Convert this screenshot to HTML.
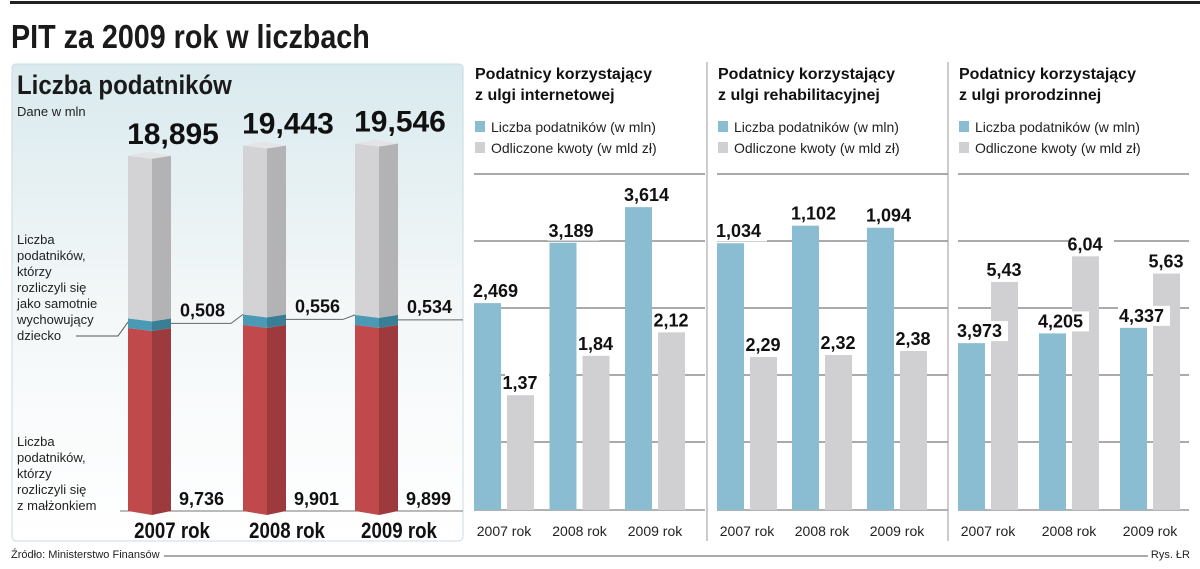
<!DOCTYPE html>
<html><head><meta charset="utf-8"><style>
body{margin:0;width:1200px;height:564px;background:#fff;overflow:hidden;font-family:"Liberation Sans",sans-serif}
svg text{font-family:"Liberation Sans",sans-serif}
</style></head><body>
<svg id="c" width="1200" height="564" viewBox="0 0 1200 564">
<defs><linearGradient id="bg" x1="0" y1="0" x2="0" y2="1"><stop offset="0" stop-color="#d9eaee"/><stop offset="0.5" stop-color="#f3f7f8"/><stop offset="1" stop-color="#ffffff"/></linearGradient></defs>
<rect x="10" y="1" width="1190" height="3" fill="#222"/>
<text x="11" y="48" font-size="33" font-weight="bold" fill="#1a1a1a" transform="translate(11 0) scale(0.87 1) translate(-11 0)">PIT za 2009 rok w liczbach</text>
<rect x="12" y="64" width="451" height="477" rx="4" fill="url(#bg)" stroke="#c8dce2"/>
<text x="17" y="94" font-size="27" font-weight="bold" fill="#1a1a1a" transform="translate(17 0) scale(0.89 1) translate(-17 0)">Liczba podatników</text>
<text x="17" y="116" font-size="13" fill="#222">Dane w mln</text>
<g font-size="13" fill="#222">
<text x="17" y="244">Liczba</text><text x="17" y="260">podatników,</text><text x="17" y="276">którzy</text><text x="17" y="292">rozliczyli się</text><text x="17" y="308">jako samotnie</text><text x="17" y="324">wychowujący</text><text x="17" y="340">dziecko</text></g>
<g font-size="13" fill="#222">
<text x="17" y="446">Liczba</text><text x="17" y="462">podatników,</text><text x="17" y="478">którzy</text><text x="17" y="494">rozliczyli się</text><text x="17" y="510">z małżonkiem</text></g>
<polyline points="76,336 118,336 128,322" fill="none" stroke="#555" stroke-width="1"/>
<line x1="120" y1="511" x2="463" y2="511" stroke="#777"/>
<g id="left"></g>
<g id="panels"></g>
<text x="11" y="558" font-size="11" fill="#222">Źródło: Ministerstwo Finansów</text>
<line x1="164" y1="556" x2="1148" y2="556" stroke="#555"/>
<text x="1190" y="558" font-size="11" fill="#222" text-anchor="end">Rys. ŁR</text>
</svg>
<script>
// Left stacked chart data
const years = ["2007 rok","2008 rok","2009 rok"];
const totals = [18.895, 19.443, 19.546];
const singleParents = [0.508, 0.556, 0.534];
const married = [9.736, 9.901, 9.899];
const totalLabels = ["18,895","19,443","19,546"];
const singleLabels = ["0,508","0,556","0,534"];
const marriedLabels = ["9,736","9,901","9,899"];

// Panel data
const panelTitles = [["Podatnicy korzystający","z ulgi internetowej"],["Podatnicy korzystający","z ulgi rehabilitacyjnej"],["Podatnicy korzystający","z ulgi prorodzinnej"]];
const internetTaxpayers = [2.469, 3.189, 3.614];
const internetAmounts = [1.37, 1.84, 2.12];
const rehabTaxpayers = [1.034, 1.102, 1.094];
const rehabAmounts = [2.29, 2.32, 2.38];
const familyTaxpayers = [3.973, 4.205, 4.337];
const familyAmounts = [5.43, 6.04, 5.63];
const internetTaxpayerLabels = ["2,469","3,189","3,614"];
const internetAmountLabels = ["1,37","1,84","2,12"];
const rehabTaxpayerLabels = ["1,034","1,102","1,094"];
const rehabAmountLabels = ["2,29","2,32","2,38"];
const familyTaxpayerLabels = ["3,973","4,205","4,337"];
const familyAmountLabels = ["5,43","6,04","5,63"];

const NS="http://www.w3.org/2000/svg";
function mk(tag,attrs,parent,txt){const e=document.createElementNS(NS,tag);for(const k in attrs)e.setAttribute(k,attrs[k]);if(txt!==undefined)e.textContent=txt;parent.appendChild(e);return e;}

// left chart
const left=document.getElementById('left');
const base=511, ls=18.8;
const yL=v=>base-v*ls;
const barX=[128,243,355];
years.forEach((yr,i)=>{
  const x0=barX[i], x1=x0+24, x2=x1+19;
  const g=mk('g',{},left);
  
  
  const rTop=yL(married[i]), bTop=yL(married[i]+singleParents[i]), tTop=yL(totals[i]);
  mk('polygon',{points:`${x0},${rTop} ${x1},${rTop+3} ${x1},${base+4} ${x0},${base}`,fill:'#c0494c'},g);
  mk('polygon',{points:`${x1},${rTop+3} ${x2},${rTop} ${x2},${base} ${x1},${base+4}`,fill:'#9c3a3d'},g);
  mk('polygon',{points:`${x0},${bTop} ${x1},${bTop+3} ${x1},${rTop+3} ${x0},${rTop}`,fill:'#4b9ab5'},g);
  mk('polygon',{points:`${x1},${bTop+3} ${x2},${bTop} ${x2},${rTop} ${x1},${rTop+3}`,fill:'#3a7e96'},g);
  mk('polygon',{points:`${x0},${tTop} ${x1},${tTop+3} ${x1},${bTop+3} ${x0},${bTop}`,fill:'#d3d3d5'},g);
  mk('polygon',{points:`${x1},${tTop+3} ${x2},${tTop} ${x2},${bTop} ${x1},${bTop+3}`,fill:'#b3b3b6'},g);
  mk('polygon',{points:`${x0},${tTop} ${x0+20},${tTop-4} ${x2},${tTop} ${x1},${tTop+3}`,fill:'#e4e4e6'},g);
  const t=mk('text',{x:x0+45,y:tTop-12,'font-size':30,'font-weight':'bold','text-anchor':'middle',fill:'#111'},left,totalLabels[i]);
  
  
  const s=mk('text',{x:x2+9,y:bTop-2,'font-size':18,'font-weight':'bold',fill:'#111'},left,singleLabels[i]);
  
  
  const nx = i<2?barX[i+1]:463;
  mk('polyline',{points:`${x2},${bTop+5} ${nx-12},${bTop+5} ${nx},${i<2?yL(married[i+1]+singleParents[i+1]):bTop+5}`,fill:'none',stroke:'#666','stroke-width':1},left);
  const m=mk('text',{x:x2+8,y:505,'font-size':18,'font-weight':'bold',fill:'#111'},left,marriedLabels[i]);
  
  
  const yl=mk('text',{x:x0+44,y:538,'font-size':22,'font-weight':'bold','text-anchor':'middle',fill:'#111',transform:`translate(${x0+44} 0) scale(0.85 1) translate(${-(x0+44)} 0)`},left,yr);
  
  
});

// panels
const P=document.getElementById('panels');
const panelDefs=[
 {x:474,bs:83.8,gs:83.8,b:internetTaxpayers,gv:internetAmounts,bl:internetTaxpayerLabels,gl:internetAmountLabels,name:'internet'},
 {x:717,bs:258,gs:66.8,b:rehabTaxpayers,gv:rehabAmounts,bl:rehabTaxpayerLabels,gl:rehabAmountLabels,name:'rehab'},
 {x:958,bs:42,gs:42,b:familyTaxpayers,gv:familyAmounts,bl:familyTaxpayerLabels,gl:familyAmountLabels,name:'family'}];
const pb=510, gridY=[174,241,308,375,442];
panelDefs.forEach((p,k)=>{
  const g=mk('g',{},P);
  
  
  if(k>0){const d=mk('line',{x1:p.x-10,y1:62,x2:p.x-10,y2:541,stroke:'#999'},g);}
  const t1=mk('text',{x:p.x+1,y:79,'font-size':16,'font-weight':'bold',fill:'#111'},g,panelTitles[k][0]);
  
  mk('text',{x:p.x+1,y:100,'font-size':16,'font-weight':'bold',fill:'#111'},g,panelTitles[k][1]);
  const l1=mk('g',{},g);
  mk('rect',{x:p.x+1,y:121,width:10,height:11,fill:'#8bbdd2'},l1);
  mk('text',{x:p.x+17,y:132,'font-size':14,fill:'#222'},l1,'Liczba podatników (w mln)');
  const l2=mk('g',{},g);
  mk('rect',{x:p.x+1,y:142,width:10,height:11,fill:'#d0d0d2'},l2);
  mk('text',{x:p.x+17,y:153,'font-size':14,fill:'#222'},l2,'Odliczone kwoty (w mld zł)');
  gridY.forEach(y=>{const gl=mk('line',{x1:p.x,y1:y,x2:p.x+231,y2:y,stroke:'#555','stroke-width':1},g);});
  const bl=mk('line',{x1:p.x,y1:pb,x2:p.x+231,y2:pb,stroke:'#666'},g);
  years.forEach((yr,i)=>{
    const gx=p.x+i*(k==0?75.5:(k==1?75:81));
    const bh=p.b[i]*p.bs, gh=p.gv[i]*p.gs;
    const r1=mk('rect',{x:gx,y:pb-bh,width:27,height:bh,fill:'#8bbdd2'},g);
    
    const r2=mk('rect',{x:gx+33,y:pb-gh,width:27,height:gh,fill:'#d0d0d2'},g);
    
    mk('rect',{x:gx-2,y:pb-bh-22,width:52,height:20,fill:'#fff'},g);
    const v1=mk('text',{x:gx-1,y:pb-bh-6,'font-size':18,'font-weight':'bold',fill:'#111'},g,p.bl[i]);
    
    mk('rect',{x:gx+31,y:pb-gh-22,width:44,height:20,fill:'#fff'},g);
    const v2=mk('text',{x:gx+46,y:pb-gh-6,'font-size':18,'font-weight':'bold','text-anchor':'middle',fill:'#111'},g,p.gl[i]);
    
    const xl=mk('text',{x:gx+30,y:536,'font-size':14,'text-anchor':'middle',fill:'#222'},g,yr);
    
  });
});
</script>
</body></html>
